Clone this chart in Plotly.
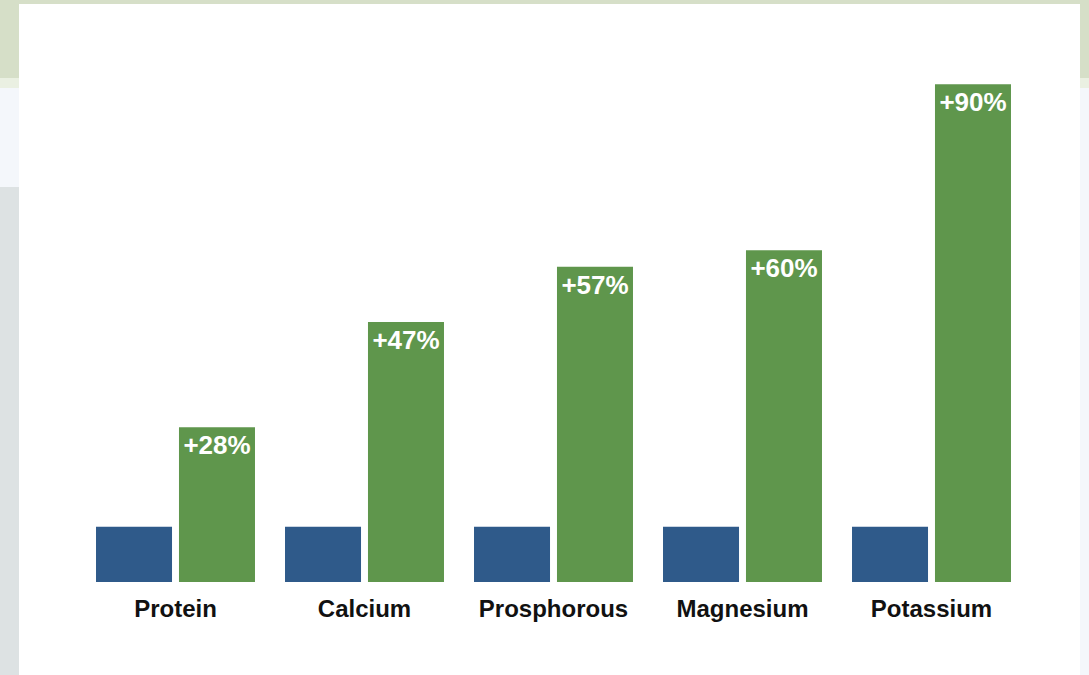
import plotly.graph_objects as go

categories = ["Protein", "Calcium", "Prosphorous", "Magnesium", "Potassium"]
baseline_values = [10, 10, 10, 10, 10]
increase_values = [28, 47, 57, 60, 90]
increase_labels = ["+28%", "+47%", "+57%", "+60%", "+90%"]

BLUE = "#2F5A8A"
GREEN = "#5F964C"
FONT = "Liberation Sans, Arial, Helvetica, sans-serif"

W, H = 1089, 675
ML, MR, MT, MB = 81, 63, 29, 93
pw = W - ML - MR
ph = H - MT - MB


def px_to_paper_x(px):
    return (px - ML) / pw


def px_to_paper_y(py):
    return (H - MB - py) / ph


fig = go.Figure()
fig.add_trace(go.Bar(
    x=categories, y=baseline_values, marker_color=BLUE,
    marker_line_width=0, hoverinfo="skip", showlegend=False,
))
fig.add_trace(go.Bar(
    x=categories, y=increase_values, marker_color=GREEN,
    marker_line_width=0, text=increase_labels, textposition="inside",
    insidetextanchor="end", textangle=0,
    textfont=dict(color="white", size=26, family=FONT, weight="bold"),
    showlegend=False,
))

shapes = [
    dict(type="rect", xref="paper", yref="paper", layer="below",
         x0=px_to_paper_x(0), x1=px_to_paper_x(W), y0=px_to_paper_y(78), y1=px_to_paper_y(0),
         fillcolor="#D6DFC8", line_width=0),
    dict(type="rect", xref="paper", yref="paper", layer="below",
         x0=px_to_paper_x(0), x1=px_to_paper_x(W), y0=px_to_paper_y(88), y1=px_to_paper_y(78),
         fillcolor="#EAF0E2", line_width=0),
    dict(type="rect", xref="paper", yref="paper", layer="below",
         x0=px_to_paper_x(0), x1=px_to_paper_x(W), y0=px_to_paper_y(H), y1=px_to_paper_y(88),
         fillcolor="#F4F7FB", line_width=0),
    dict(type="rect", xref="paper", yref="paper", layer="below",
         x0=px_to_paper_x(0), x1=px_to_paper_x(19), y0=px_to_paper_y(H), y1=px_to_paper_y(187),
         fillcolor="#DDE2E3", line_width=0),
    dict(type="rect", xref="paper", yref="paper", layer="below",
         x0=px_to_paper_x(19), x1=px_to_paper_x(1080), y0=px_to_paper_y(H + 5), y1=px_to_paper_y(4),
         fillcolor="white", line_width=0),
]

fig.update_layout(
    width=W, height=H,
    margin=dict(l=ML, r=MR, t=MT, b=MB, pad=0),
    paper_bgcolor="#F4F7FB",
    plot_bgcolor="rgba(0,0,0,0)",
    barmode="group",
    bargap=0.122,
    bargroupgap=0.084,
    uniformtext=dict(minsize=26, mode="show"),
    shapes=shapes,
    font=dict(family=FONT),
    xaxis=dict(
        showgrid=False, zeroline=False, showline=False, ticks="",
        tickfont=dict(size=24, color="#111111", family=FONT, weight="bold"),
        ticklabelstandoff=10,
    ),
    yaxis=dict(range=[0, 100], visible=False, showgrid=False, zeroline=False),
)

fig.write_html("out.html", config={"displayModeBar": False},
               post_script="document.body.style.margin='0';")
